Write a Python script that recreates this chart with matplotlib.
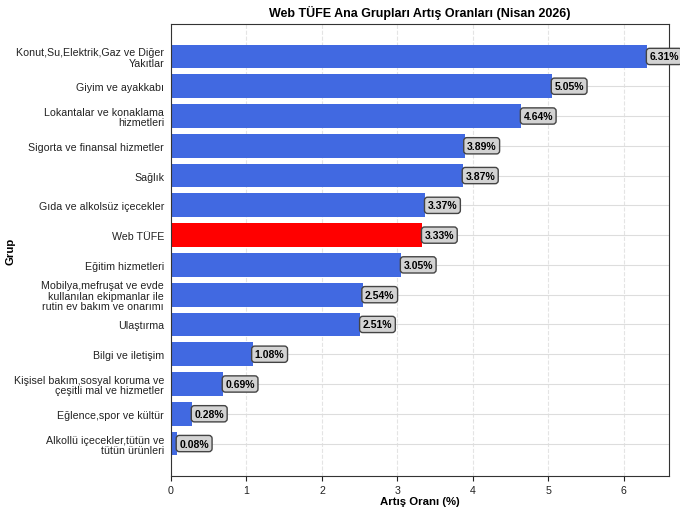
import matplotlib
matplotlib.use("Agg")
import matplotlib.pyplot as plt

plt.rcParams['font.family'] = ['Liberation Sans', 'DejaVu Sans']

groups = [
    "Konut,Su,Elektrik,Gaz ve Diğer\nYakıtlar",
    "Giyim ve ayakkabı",
    "Lokantalar ve konaklama\nhizmetleri",
    "Sigorta ve finansal hizmetler",
    "Sağlık",
    "Gıda ve alkolsüz içecekler",
    "Web TÜFE",
    "Eğitim hizmetleri",
    "Mobilya,mefruşat ve evde\nkullanılan ekipmanlar ile\nrutin ev bakım ve onarımı",
    "Ulaştırma",
    "Bilgi ve iletişim",
    "Kişisel bakım,sosyal koruma ve\nçeşitli mal ve hizmetler",
    "Eğlence,spor ve kültür",
    "Alkollü içecekler,tütün ve\ntütün ürünleri",
]
rates = [6.31, 5.05, 4.64, 3.89, 3.87, 3.37, 3.33, 3.05, 2.54, 2.51, 1.08, 0.69, 0.28, 0.08]

colors = ['red' if g == "Web TÜFE" else 'royalblue' for g in groups]

fig = plt.figure(figsize=(6.8, 5.1), dpi=100)
ax = fig.add_axes([0.2515, 0.0647, 0.7325, 0.8863])

ypos = list(range(len(groups)))
ax.barh(ypos, rates, height=0.8, color=colors, zorder=2)
ax.set_yticks(ypos)
ax.set_yticklabels(groups, fontsize=7.7, color='#222222', linespacing=1.05)
ax.invert_yaxis()
ax.set_xlim(0, 6.6)

ax.set_axisbelow(True)
ax.grid(axis='y', color='#dddddd', linestyle='-', linewidth=0.8)
ax.grid(axis='x', color='#e4e4e4', linestyle='--', linewidth=0.8)

for y, v in zip(ypos, rates):
    ax.text(v + 0.03, y, f"{v:.2f}%", va='center', ha='left', fontsize=7.5,
            fontweight='bold', color='black', clip_on=False, zorder=4,
            bbox=dict(boxstyle='round,pad=0.3', facecolor='#d3d3d3',
                      edgecolor='#444444', linewidth=1))

ax.tick_params(axis='x', labelsize=7.7, colors='#222222', pad=3)
ax.tick_params(axis='y', length=0, pad=5)
for s in ax.spines.values():
    s.set_color('#333333')

ax.set_title("Web TÜFE Ana Grupları Artış Oranları (Nisan 2026)",
             fontsize=9, fontweight='bold', pad=6)
ax.set_xlabel("Artış Oranı (%)", fontsize=8.2, fontweight='bold', labelpad=1)
ax.set_ylabel("Grup", fontsize=8.2, fontweight='bold')
ax.yaxis.set_label_coords(-0.313, 0.5)

fig.savefig("out.png", dpi=100)
